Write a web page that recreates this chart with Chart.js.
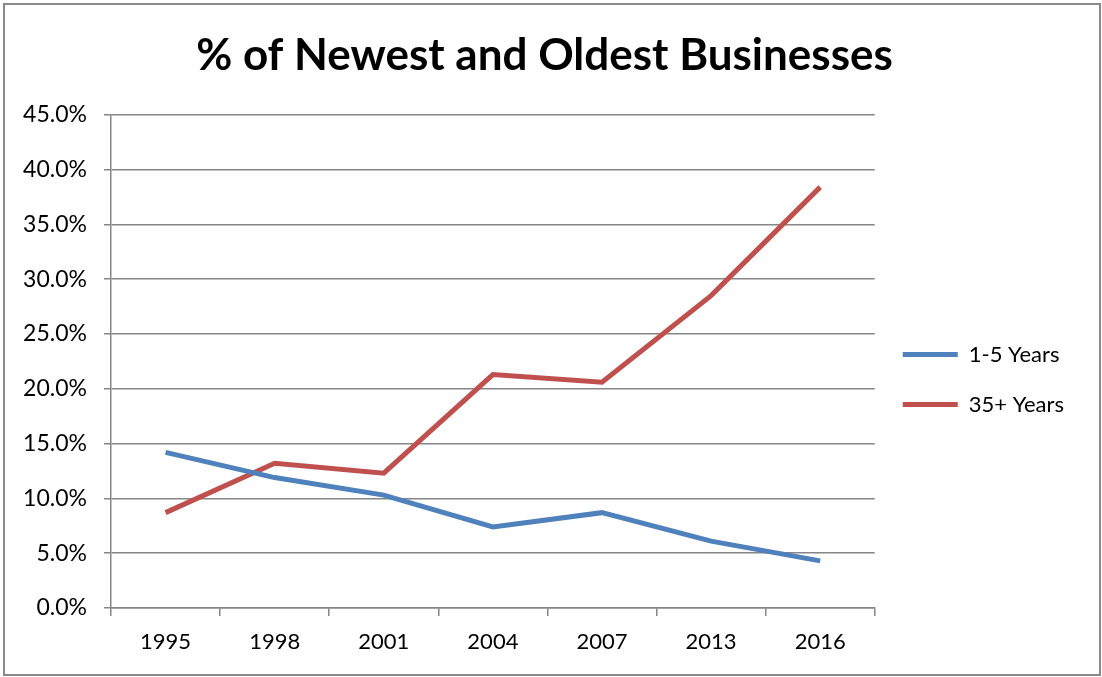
<!DOCTYPE html>
<html>
<head>
<meta charset="utf-8">
<script src="https://cdn.jsdelivr.net/npm/chart.js@4"></script>
<style>
  html, body { margin: 0; padding: 0; background: #fff; }
  #wrap { position: absolute; left: 3px; top: 3px; width: 1094px; height: 669px; border: 2px solid #8a8a8a; }
  canvas { display: block; }
</style>
</head>
<body>
<div id="wrap"><canvas id="chart" width="1094" height="669"></canvas></div>
<script>
document.addEventListener("DOMContentLoaded", function () {
  // Data (percent)
  const years = ["1995", "1998", "2001", "2004", "2007", "2013", "2016"];
  const newest = [14.2, 11.9, 10.3, 7.4, 8.7, 6.1, 4.3];
  const oldest = [8.7, 13.2, 12.3, 21.3, 20.6, 28.5, 38.4];

  const blue = "#4F81BD";
  const red = "#C0504D";
  const grid = "#868686";

  Chart.defaults.font.family = "Lato, 'Open Sans', sans-serif";
  Chart.defaults.color = "#000";

  const chart = new Chart(document.getElementById("chart"), {
    type: "line",
    data: {
      labels: years,
      datasets: [
        { label: "1-5 Years", data: newest, borderColor: blue, backgroundColor: blue, borderWidth: 5, pointRadius: 0, tension: 0 },
        { label: "35+ Years", data: oldest, borderColor: red, backgroundColor: red, borderWidth: 5, pointRadius: 0, tension: 0 },
      ],
    },
    options: {
      responsive: false,
      animation: false,
      layout: { padding: { left: 10, right: 25, bottom: 20 } },
      plugins: {
        title: {
          display: true,
          text: "% of Newest and Oldest Businesses",
          font: { size: 44, weight: "bold", lineHeight: 1.2 },
          padding: { top: 24, bottom: 33 },
        },
        legend: {
          position: "right",
          // blank title only pushes the items a bit below centre, like the original
          title: { display: true, text: " ", padding: { top: 64, bottom: 0 }, font: { size: 30 } },
          labels: {
            usePointStyle: true,
            pointStyle: "line",
            pointStyleWidth: 55,
            font: { size: 22 },
            padding: 28,
          },
        },
        tooltip: { enabled: false },
      },
      scales: {
        x: {
          offset: true,
          afterFit: function (scale) { scale.height = 46; },
          grid: { offset: true, drawOnChartArea: false, drawTicks: true, tickLength: 8, color: grid, lineWidth: 1.5 },
          border: { color: grid, width: 1.5 },
          ticks: { font: { size: 22 }, padding: 13 },
        },
        y: {
          min: 0,
          max: 45,
          afterFit: function (scale) { scale.width = 96; },
          ticks: {
            stepSize: 5,
            font: { size: 23 },
            padding: 17,
            callback: function (v) { return v.toFixed(1) + "%"; },
          },
          grid: { color: grid, lineWidth: 1.5, tickLength: 7 },
          border: { color: grid, width: 1.5 },
        },
      },
    },
  });
});
</script>
</body>
</html>
